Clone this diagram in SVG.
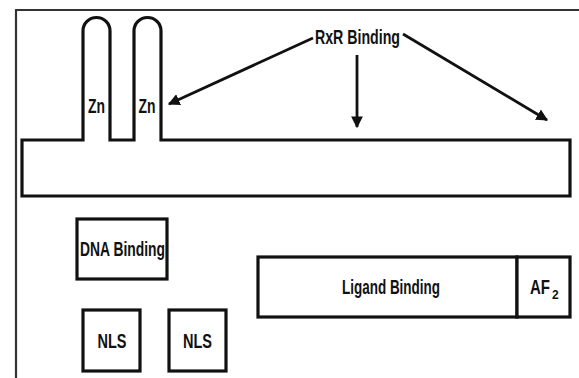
<svg xmlns="http://www.w3.org/2000/svg" width="579" height="378" viewBox="0 0 579 378">
<style>
.box{fill:#fff;stroke:#111;stroke-width:3.2}
.t{font-family:"Liberation Sans",Arial,sans-serif;font-weight:bold;fill:#111;text-anchor:middle;font-size:21px}
.c{stroke:#111;stroke-width:2.8;fill:none}
</style>
<defs>
<marker id="ah" viewBox="0 0 10 10" refX="9" refY="5" markerWidth="4.2" markerHeight="4.2" orient="auto" markerUnits="strokeWidth">
<path d="M0,0 L10,5 L0,10 Z" fill="#111"/>
</marker>
</defs>
<rect width="579" height="378" fill="#fff"/>
<g id="frame">
<path d="M16,378 L16,10 L579,10" fill="none" stroke="#333" stroke-width="2.2"/>
</g>
<g id="receptor">
<path class="box" d="M22,196 L22,140 L83,140 L83,31 A13.5,13.5 0 0 1 110,31 L110,140 L134,140 L134,31 A13.5,13.5 0 0 1 161,31 L161,140 L570,140 L570,196 Z"/>
<text class="t" x="96.5" y="113" textLength="17" lengthAdjust="spacingAndGlyphs">Zn</text>
<text class="t" x="147" y="113" textLength="17" lengthAdjust="spacingAndGlyphs">Zn</text>
</g>
<g id="rxr">
<text class="t" x="357.5" y="44" textLength="85" lengthAdjust="spacingAndGlyphs">RxR Binding</text>
</g>
<g id="connectors">
<line class="c" x1="313" y1="38" x2="169" y2="104" marker-end="url(#ah)"/>
<line class="c" x1="357" y1="55" x2="357" y2="127" marker-end="url(#ah)"/>
<line class="c" x1="403" y1="34" x2="547" y2="120" marker-end="url(#ah)"/>
</g>
<g id="dna">
<rect class="box" x="77" y="219" width="90" height="60"/>
<text class="t" x="122.5" y="256" textLength="85" lengthAdjust="spacingAndGlyphs">DNA Binding</text>
</g>
<g id="nls1">
<rect class="box" x="83" y="310" width="57" height="61"/>
<text class="t" x="112" y="348" textLength="29" lengthAdjust="spacingAndGlyphs">NLS</text>
</g>
<g id="nls2">
<rect class="box" x="169" y="310" width="57" height="61"/>
<text class="t" x="197.5" y="348" textLength="29" lengthAdjust="spacingAndGlyphs">NLS</text>
</g>
<g id="ligand">
<rect class="box" x="258" y="257" width="259" height="60"/>
<text class="t" x="391" y="294" textLength="98" lengthAdjust="spacingAndGlyphs">Ligand Binding</text>
</g>
<g id="af2">
<rect class="box" x="517" y="257" width="53" height="60"/>
<text class="t" x="530" y="294" style="text-anchor:start"><tspan textLength="20" lengthAdjust="spacingAndGlyphs">AF</tspan><tspan dx="2" dy="5" style="font-size:12px">2</tspan></text>
</g>
</svg>
